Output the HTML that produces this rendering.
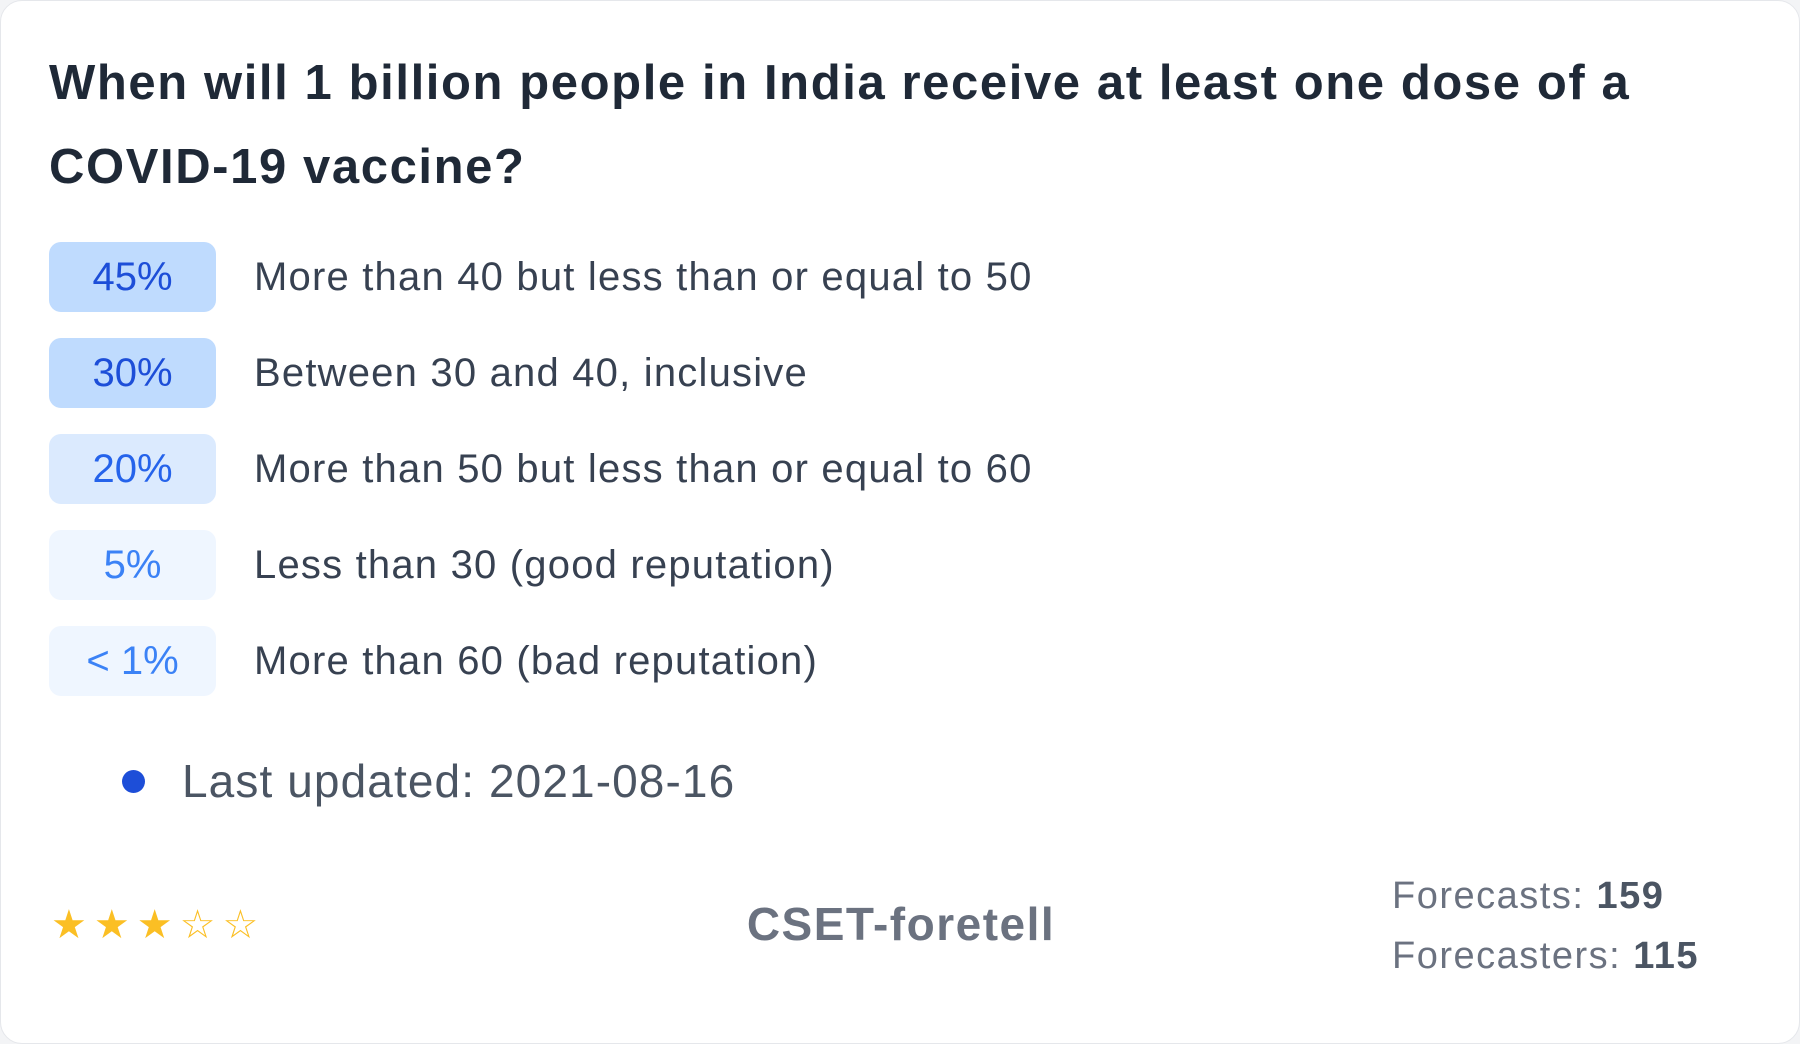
<!DOCTYPE html>
<html><head><meta charset="utf-8"><style>
html,body{margin:0;padding:0;width:1800px;height:1044px;background:#f3f4f6;overflow:hidden}
.card{position:absolute;left:0;top:0;width:1798px;height:1042px;background:#fff;border:1px solid #e5e7eb;border-radius:22px;font-family:"Liberation Sans",sans-serif}
.title{position:absolute;left:48px;top:40px;width:1750px;font-size:49px;font-weight:bold;color:#1f2937;line-height:84px;letter-spacing:1.6px;white-space:nowrap}
.row{position:absolute;left:48px;height:70px;display:flex;align-items:center}
.badge{width:167px;height:70px;border-radius:12px;display:flex;align-items:center;justify-content:center;font-size:40px}
.lbl{margin-left:38px;font-size:40px;color:#374151;letter-spacing:1.2px;white-space:nowrap}
.b1{background:#bfdbfe;color:#1d4ed8}.b2{background:#dbeafe;color:#2563eb}.b3{background:#eff6ff;color:#3b82f6}
.abs{position:absolute;white-space:nowrap}
</style></head><body><div class="card">
<div class="title">When will 1 billion people in India receive at least one dose of a<br>COVID-19 vaccine?</div>
<div class="row" style="top:241px"><div class="badge b1">45%</div><div class="lbl">More than 40 but less than or equal to 50</div></div>
<div class="row" style="top:337px"><div class="badge b1">30%</div><div class="lbl">Between 30 and 40, inclusive</div></div>
<div class="row" style="top:433px"><div class="badge b2">20%</div><div class="lbl">More than 50 but less than or equal to 60</div></div>
<div class="row" style="top:529px"><div class="badge b3">5%</div><div class="lbl">Less than 30 (good reputation)</div></div>
<div class="row" style="top:625px"><div class="badge b3">&lt; 1%</div><div class="lbl">More than 60 (bad reputation)</div></div>
<div class="abs" style="left:121px;top:769px;width:23px;height:23px;border-radius:50%;background:#1d4ed8"></div>
<div class="abs" style="left:181px;top:752px;font-size:46px;color:#4b5563;line-height:56px;letter-spacing:1.1px">Last updated: 2021-08-16</div>
<div class="abs" style="left:50px;top:900px;font-size:40px;color:#fbbf24;line-height:48px;letter-spacing:7px">★★★☆☆</div>
<div class="abs" style="left:700px;width:400px;text-align:center;top:895px;font-size:46px;font-weight:bold;color:#6b7280;line-height:56px;letter-spacing:1.5px">CSET-foretell</div>
<div class="abs" style="left:1391px;top:872px;font-size:38px;color:#6b7280;line-height:46px;letter-spacing:1.5px">Forecasts: <b style="color:#4b5563">159</b></div>
<div class="abs" style="left:1391px;top:932px;font-size:38px;color:#6b7280;line-height:46px;letter-spacing:1.5px">Forecasters: <b style="color:#4b5563">115</b></div>
</div></body></html>
